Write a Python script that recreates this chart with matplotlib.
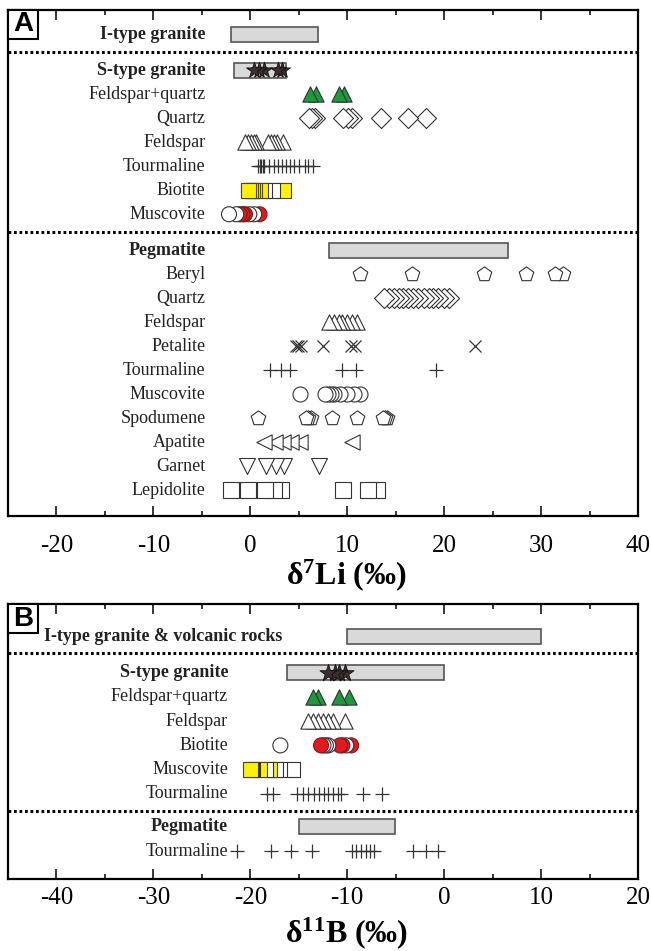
import matplotlib
matplotlib.use('Agg')
import matplotlib.pyplot as plt
from matplotlib.patches import Rectangle
from matplotlib.ticker import MultipleLocator, FixedLocator
import numpy as np

plt.rcParams['font.family'] = ['Liberation Serif', 'DejaVu Serif']
plt.rcParams['axes.unicode_minus'] = False
plt.rcParams['mathtext.fontset'] = 'custom'
plt.rcParams['mathtext.rm'] = 'Liberation Serif'
plt.rcParams['mathtext.bf'] = 'Liberation Serif:bold'
plt.rcParams['mathtext.it'] = 'Liberation Serif:italic'

# ---------------- Panel A : delta7Li (permil) ----------------
li_itype_range = [-2.0, 7.0]
li_stype_range = [-1.7, 3.7]
li_peg_range = [8.1, 26.6]
li_s_wholerock = [0.4, 0.9, 1.4, 2.9, 3.3]
li_s_fsp_qtz = [6.2, 6.8, 9.1, 9.7]
li_s_quartz = [6.1, 6.4, 6.7, 9.6, 10.1, 10.5, 13.5, 16.3, 18.1]
li_s_feldspar = [-0.5, -0.2, 0.1, 0.35, 0.6, 1.8, 2.1, 2.45, 2.8, 3.35]
li_s_tourmaline = [0.75, 0.95, 1.1, 1.3, 1.45, 1.95, 2.4, 2.85, 3.25, 3.7, 4.1,
                   4.55, 5.05, 5.6, 5.95, 6.45]
li_s_biotite = [-0.2, -0.15, 0.0, 0.25, 0.4, 1.1, 1.45, 2.25, 3.45]
li_s_biotite_fill = ['Y', 'Y', 'Y', 'Y', 'Y', 'Y', 'W', 'W', 'Y']
li_s_muscovite = [-2.2, -1.45, -1.1, -0.8, -0.55, -0.1, 0.4, 0.95]
li_s_muscovite_fill = ['W', 'W', 'R', 'R', 'R', 'W', 'W', 'R']

li_p_beryl = [11.3, 16.7, 24.1, 28.4, 31.4, 32.3]
li_p_quartz = [13.8, 14.3, 14.8, 15.3, 15.8, 16.3, 16.8, 17.3, 17.9, 18.4, 18.9,
               19.4, 20.0, 20.5]
li_p_feldspar = [8.1, 8.6, 9.1, 9.5, 10.0, 10.5, 11.0]
li_p_petalite = [4.7, 4.95, 5.2, 7.5, 10.4, 10.75, 23.2]
li_p_tourmaline = [2.0, 3.2, 4.1, 9.5, 10.9, 19.2]
li_p_muscovite = [5.1, 7.75, 8.05, 8.35, 8.65, 9.3, 10.0, 10.7, 11.3]
li_p_spodumene = [0.8, 5.7, 6.0, 6.3, 8.4, 11.0, 13.7, 13.9, 14.1]
li_p_apatite = [1.4, 2.5, 3.4, 4.2, 5.1, 10.5]
li_p_garnet = [-0.35, 1.6, 2.6, 3.5, 7.05]
li_p_lepidolite = [-2.0, -0.25, 1.5, 2.4, 3.2, 9.6, 12.1, 13.1]

# ---------------- Panel B : delta11B (permil) ----------------
b_itype_range = [-10.0, 10.0]
b_stype_range = [-16.2, 0.0]
b_peg_range = [-15.0, -5.1]
b_s_wholerock = [-12.0, -11.3, -10.8, -10.2]
b_s_fsp_qtz = [-13.5, -13.0, -10.9, -9.8]
b_s_feldspar = [-14.0, -13.5, -13.0, -12.5, -12.0, -11.5, -10.2]
b_s_biotite = [-16.9, -12.7, -12.45, -12.2, -11.95, -10.75, -10.5, -10.1, -9.6]
b_s_biotite_fill = ['W', 'R', 'W', 'W', 'W', 'R', 'R', 'W', 'R']
b_s_muscovite = [-20.0, -19.9, -19.78, -19.04, -18.4, -18.07, -17.43, -17.0, -15.6]
b_s_muscovite_fill = ['Y', 'W', 'W', 'Y', 'W', 'Y', 'W', 'W', 'W']
b_s_tourmaline = [-18.3, -17.7, -15.2, -14.6, -14.0, -13.4, -12.9, -12.4, -11.95,
                  -11.5, -11.0, -10.6, -8.4, -6.4]
b_p_tourmaline = [-21.4, -17.9, -15.8, -13.6, -9.5, -9.05, -8.6, -8.1, -7.6, -7.2,
                  -3.2, -1.9, -0.6]

li_ticks = [-20, -10, 0, 10, 20, 30, 40]
b_ticks = [-40, -30, -20, -10, 0, 10, 20]

# ---------------- styling ----------------
FILL = {'W': 'white', 'Y': '#fff200', 'R': '#e3191f'}
EDGE = {'W': '#333333', 'Y': '#444444', 'R': '#7a1a1a'}
GREEN = '#1d9a3b'
STAR = '#3a2e2e'
BOXFC = '#d9d9d9'
BOXEC = '#555555'

W_PX, H_PX = 651, 951
fig = plt.figure(figsize=(W_PX / 100, H_PX / 100), dpi=100)
axA = fig.add_axes([8 / W_PX, 1 - 516 / H_PX, 630 / W_PX, 506 / H_PX])
axB = fig.add_axes([8 / W_PX, 1 - 879 / H_PX, 630 / W_PX, 275 / H_PX])


def style(ax, xlim, ticks, ylim, pad):
    ax.set_xlim(*xlim)
    ax.set_ylim(*ylim)
    ax.set_yticks([])
    ax.xaxis.set_major_locator(FixedLocator(ticks))
    ax.xaxis.set_minor_locator(MultipleLocator(5))
    ax.tick_params(axis='x', which='both', direction='in', top=True, bottom=True,
                   labeltop=False, width=1.1, colors='black')
    ax.tick_params(axis='x', which='major', length=7, labelsize=18, pad=pad)
    ax.tick_params(axis='x', which='minor', length=3.5)
    for s in ax.spines.values():
        s.set_linewidth(1.6)


def pts(ax, xs, y, marker, ms, fills=None, fc='white', ec='#333333', lw=0.8, z=3):
    xs = np.asarray(xs, float)
    order = np.argsort(-xs, kind='stable')
    if fills is not None:
        fcs = [FILL[fills[i]] for i in order]
        ecs = [EDGE[fills[i]] for i in order]
    else:
        fcs = fc
        ecs = ec
    ax.scatter(xs[order], np.full(len(xs), y), s=ms ** 2, marker=marker,
               facecolors=fcs, edgecolors=ecs, linewidths=lw, zorder=z)


def crosses(ax, xs, y, marker, ms, lw=0.9):
    ax.plot(xs, np.full(len(xs), y), ls='none', marker=marker, ms=ms, mew=lw,
            color='#333333', zorder=3)


def bar(ax, rng, y, h=0.62):
    ax.add_patch(Rectangle((rng[0], y - h / 2), rng[1] - rng[0], h, fc=BOXFC,
                           ec=BOXEC, lw=1.2, zorder=2))


def dotted(ax, y):
    ax.axhline(y, color='black', lw=2.2, ls=(0, (0.9, 0.9)), zorder=1)


def label(ax, x, y, text, bold=False, ha='right'):
    ax.text(x, y, text, ha=ha, va='center', fontsize=13,
            fontweight='bold' if bold else 'normal', color='#222222', zorder=4)


def panel_letter(ax, letter, h_px):
    ax.add_patch(Rectangle((0, 1), 30 / 630, -29 / h_px, transform=ax.transAxes,
                           fc='white', ec='black', lw=1.5, zorder=6, clip_on=False))
    ax.text(15 / 630, 1 - 14.5 / h_px, letter, transform=ax.transAxes, ha='center',
            va='center', fontsize=20, fontweight='bold', family='Liberation Sans',
            zorder=7)


# ---------------- Panel A ----------------
style(axA, (-25, 40), li_ticks, (20.07, -1.01), pad=14)
LXA = -4.6
label(axA, LXA, 0, 'I-type granite', bold=True)
bar(axA, li_itype_range, 0)
dotted(axA, 0.75)
label(axA, LXA, 1.5, 'S-type granite', bold=True)
bar(axA, li_stype_range, 1.5)
pts(axA, li_s_wholerock, 1.5, '*', 12, fc=STAR, ec='#111111', lw=0.6)
label(axA, LXA, 2.5, 'Feldspar+quartz')
pts(axA, li_s_fsp_qtz, 2.5, '^', 11, fc=GREEN, ec='#333333')
label(axA, LXA, 3.5, 'Quartz')
pts(axA, li_s_quartz, 3.5, 'D', 10.2)
label(axA, LXA, 4.5, 'Feldspar')
pts(axA, li_s_feldspar, 4.5, '^', 11)
label(axA, LXA, 5.5, 'Tourmaline')
crosses(axA, li_s_tourmaline, 5.5, '+', 10)
label(axA, LXA, 6.5, 'Biotite')
pts(axA, li_s_biotite, 6.5, 's', 10.8, fills=li_s_biotite_fill)
label(axA, LXA, 7.5, 'Muscovite')
pts(axA, li_s_muscovite, 7.5, 'o', 10.8, fills=li_s_muscovite_fill)
dotted(axA, 8.23)
label(axA, LXA, 9.0, 'Pegmatite', bold=True)
bar(axA, li_peg_range, 9.0)
label(axA, LXA, 10, 'Beryl')
pts(axA, li_p_beryl, 10, 'p', 11)
label(axA, LXA, 11, 'Quartz')
pts(axA, li_p_quartz, 11, 'D', 10.2)
label(axA, LXA, 12, 'Feldspar')
pts(axA, li_p_feldspar, 12, '^', 11)
label(axA, LXA, 13, 'Petalite')
crosses(axA, li_p_petalite, 13, 'x', 8.7)
label(axA, LXA, 14, 'Tourmaline')
crosses(axA, li_p_tourmaline, 14, '+', 10)
label(axA, LXA, 15, 'Muscovite')
pts(axA, li_p_muscovite, 15, 'o', 10.8)
label(axA, LXA, 16, 'Spodumene')
pts(axA, li_p_spodumene, 16, 'p', 11)
label(axA, LXA, 17, 'Apatite')
pts(axA, li_p_apatite, 17, '<', 11)
label(axA, LXA, 18, 'Garnet')
pts(axA, li_p_garnet, 18, 'v', 11.5)
label(axA, LXA, 19, 'Lepidolite')
pts(axA, li_p_lepidolite, 19, 's', 11)
panel_letter(axA, 'A', 506)

# ---------------- Panel B ----------------
style(axB, (-45, 20), b_ticks, (10.0, -1.32), pad=6)
LXB = -22.3
label(axB, -41.3, 0, 'I-type granite & volcanic rocks', bold=True, ha='left')
bar(axB, b_itype_range, 0)
dotted(axB, 0.7)
label(axB, LXB, 1.5, 'S-type granite', bold=True)
bar(axB, b_stype_range, 1.5)
pts(axB, b_s_wholerock, 1.5, '*', 13, fc=STAR, ec='#111111', lw=0.6)
label(axB, LXB, 2.5, 'Feldspar+quartz')
pts(axB, b_s_fsp_qtz, 2.5, '^', 11, fc=GREEN, ec='#333333')
label(axB, LXB, 3.5, 'Feldspar')
pts(axB, b_s_feldspar, 3.5, '^', 11)
label(axB, LXB, 4.5, 'Biotite')
pts(axB, b_s_biotite, 4.5, 'o', 10.8, fills=b_s_biotite_fill)
label(axB, LXB, 5.5, 'Muscovite')
pts(axB, b_s_muscovite, 5.5, 's', 10.8, fills=b_s_muscovite_fill)
label(axB, LXB, 6.5, 'Tourmaline')
crosses(axB, b_s_tourmaline, 6.5, '+', 10)
dotted(axB, 7.2)
label(axB, LXB, 7.85, 'Pegmatite', bold=True)
bar(axB, b_peg_range, 7.85)
label(axB, LXB, 8.85, 'Tourmaline')
crosses(axB, b_p_tourmaline, 8.85, '+', 10)
panel_letter(axB, 'B', 275)

fig.text(346 / W_PX, 1 - 575 / H_PX, r'$\mathbf{\delta^{7}Li\ (‰)}$', ha='center',
         va='center', fontsize=23)
fig.text(346 / W_PX, 1 - 933 / H_PX, r'$\mathbf{\delta^{11}B\ (‰)}$', ha='center',
         va='center', fontsize=23)

fig.savefig('out.png', dpi=100)
